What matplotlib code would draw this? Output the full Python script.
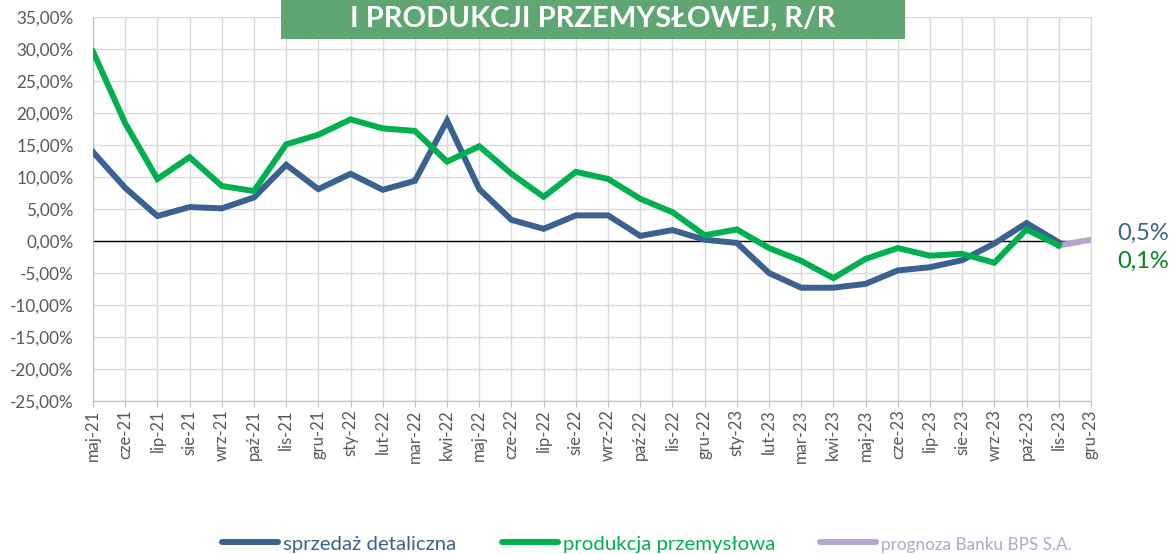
import matplotlib.pyplot as plt
from matplotlib.patches import Rectangle

plt.rcParams['font.family'] = ['Lato', 'DejaVu Sans']

# dane
miesiace = ['maj-21', 'cze-21', 'lip-21', 'sie-21', 'wrz-21', 'paź-21', 'lis-21', 'gru-21',
            'sty-22', 'lut-22', 'mar-22', 'kwi-22', 'maj-22', 'cze-22', 'lip-22', 'sie-22',
            'wrz-22', 'paź-22', 'lis-22', 'gru-22', 'sty-23', 'lut-23', 'mar-23', 'kwi-23',
            'maj-23', 'cze-23', 'lip-23', 'sie-23', 'wrz-23', 'paź-23', 'lis-23', 'gru-23']
sprzedaz = [13.9, 8.3, 3.9, 5.3, 5.1, 6.8, 11.9, 8.1, 10.5, 8.0, 9.4, 18.8, 8.1, 3.3, 1.9, 4.0,
            4.0, 0.8, 1.7, 0.2, -0.3, -5.0, -7.3, -7.3, -6.7, -4.6, -4.1, -3.0, -0.4, 2.8, -0.2]
produkcja = [29.6, 18.4, 9.7, 13.1, 8.6, 7.8, 15.1, 16.6, 19.0, 17.6, 17.2, 12.4, 14.8, 10.5, 6.9, 10.8,
             9.7, 6.6, 4.5, 0.9, 1.8, -1.1, -3.1, -5.8, -2.8, -1.1, -2.3, -2.0, -3.4, 1.8, -0.7]
prognoza_idx = [30, 31]
prognoza = [-0.7, 0.2]
etykiety_prognozy = ['0,5%', '0,1%']

c_blue = '#3B6191'
c_green = '#00B050'
c_purple = '#B4A4CF'
c_gray = '#595959'

fig = plt.figure(figsize=(11.73, 5.54), dpi=100)
ax = fig.add_axes([0.0793, 0.2762, 0.8507, 0.6931])

x = list(range(len(miesiace)))
ax.plot(x[:len(sprzedaz)], sprzedaz, color=c_blue, lw=4.3, solid_joinstyle='miter', zorder=4,
        label='sprzedaż detaliczna')
ax.plot(x[:len(produkcja)], produkcja, color=c_green, lw=4.3, solid_joinstyle='miter', zorder=4,
        label='produkcja przemysłowa')
ax.plot(prognoza_idx, prognoza, color=c_purple, lw=4.3, zorder=3, label='prognoza Banku BPS S.A.')
ax.axhline(0, color='black', lw=1, zorder=2)

ax.set_xlim(0, len(miesiace) - 1)
ax.set_ylim(-25, 35)
ax.set_yticks(range(-25, 36, 5))
ax.set_yticklabels([f'{v:.2f}'.replace('.', ',') + '%' for v in range(-25, 36, 5)],
                   fontsize=12.3, color=c_gray)
ax.set_xticks(x)
ax.set_xticklabels(miesiace, rotation=90, fontsize=12, color=c_gray)
ax.tick_params(axis='x', length=4, color='#BFBFBF', pad=2)
ax.tick_params(axis='y', length=0, pad=14)
ax.grid(True, color='#D9D9D9', lw=1)
ax.set_axisbelow(True)
for s in ['left', 'bottom']:
    ax.spines[s].set_color('#BFBFBF')
for s in ['right', 'top']:
    ax.spines[s].set_color('#D9D9D9')

# etykiety prognozy
fig.text(1117 / 1173, 1 - 233 / 554, etykiety_prognozy[0], color=c_blue, fontsize=17,
         va='center', ha='left')
fig.text(1117 / 1173, 1 - 261 / 554, etykiety_prognozy[1], color='#00861A', fontsize=17,
         va='center', ha='left')

# tytuł
fig.patches.append(Rectangle((281 / 1173, 1 - 39 / 554), 624 / 1173, 39 / 554,
                             transform=fig.transFigure, facecolor='#5FA673', edgecolor='none',
                             zorder=5))
fig.text(593 / 1173, 1 - 19 / 554, 'I PRODUKCJI PRZEMYSŁOWEJ, R/R', color='white',
         fontsize=21, fontweight='bold', ha='center', va='center', zorder=6)

# legenda
leg = fig.legend(loc='center', bbox_to_anchor=(647 / 1173, 1 - 544 / 554), ncol=3, frameon=False,
                 fontsize=14.7, handlelength=2.75, handletextpad=0.25, columnspacing=2.2)
for t, c in zip(leg.get_texts(), [c_blue, c_green, c_purple]):
    t.set_color(c)
leg.get_texts()[2].set_fontsize(12.3)
for h in leg.get_lines():
    h.set_solid_capstyle('round')

fig.savefig('out.png', dpi=100)
